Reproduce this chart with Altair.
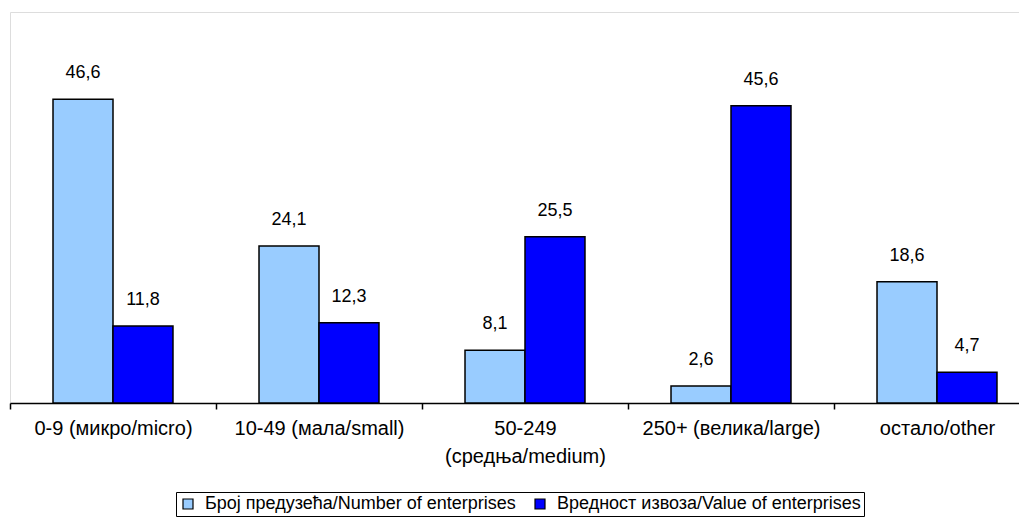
import altair as alt
import pandas as pd

categories = ["0-9 (микро/micro)", "10-49 (мала/small)", "50-249|(средња/medium)",
              "250+ (велика/large)", "остало/other"]
series = ["Број предузећа/Number of enterprises", "Вредност извоза/Value of enterprises"]
number_vals = [46.6, 24.1, 8.1, 2.6, 18.6]
value_vals = [11.8, 12.3, 25.5, 45.6, 4.7]
colors = ["#99CCFF", "#0000FF"]

rows = []
for c, a, b in zip(categories, number_vals, value_vals):
    rows.append({"cat": c, "series": series[0], "value": a, "label": f"{a:.1f}".replace(".", ",")})
    rows.append({"cat": c, "series": series[1], "value": b, "label": f"{b:.1f}".replace(".", ",")})
df = pd.DataFrame(rows)

FONT = "Liberation Sans"

x_enc = alt.X(
    "cat:N", sort=categories,
    scale=alt.Scale(range=[0, 1030], paddingInner=0, paddingOuter=0),
    axis=alt.Axis(title=None, labelAngle=0, labelFontSize=20, labelFont=FONT, labelColor="black",
                  domainColor="black", domainWidth=1.5, tickColor="black", tickWidth=1.5,
                  tickSize=6, tickBand="extent", labelPadding=9, labelLimit=400,
                  labelExpr="split(datum.label, '|')", labelLineHeight=28),
)
xo_enc = alt.XOffset("series:N", sort=series,
                     scale=alt.Scale(paddingOuter=0.717, paddingInner=0))
y_enc = alt.Y("value:Q", scale=alt.Scale(domain=[0, 60], nice=False), axis=None)

bars = alt.Chart(df).mark_bar(stroke="black", strokeWidth=1.5).encode(
    x=x_enc, xOffset=xo_enc, y=y_enc,
    color=alt.Color("series:N", sort=series,
                    scale=alt.Scale(domain=series, range=colors),
                    legend=alt.Legend(orient="none", legendX=166, legendY=480,
                                      direction="horizontal", title=None,
                                      strokeColor="black", padding=3,
                                      fillColor="white",
                                      symbolType="square", symbolSize=100,
                                      symbolStrokeColor="black", symbolStrokeWidth=1.2,
                                      labelFontSize=18, labelFont=FONT, labelColor="black",
                                      labelOffset=8, columnPadding=15, labelLimit=500)),
)

texts = alt.Chart(df).mark_text(dy=-17, baseline="bottom", fontSize=18, font=FONT,
                                color="black").encode(
    x=x_enc, xOffset=xo_enc, y=y_enc, text="label:N"
)

chart = alt.layer(bars, texts).properties(
    width=1017, height=391,
    padding={"left": 2, "top": 4, "right": -8, "bottom": 114},
    autosize=alt.AutoSizeParams(type="none"),
).configure_view(stroke="#999999", strokeWidth=2).configure(background="white")

chart.save("out.html", embed_options={"renderer": "svg", "actions": False})
